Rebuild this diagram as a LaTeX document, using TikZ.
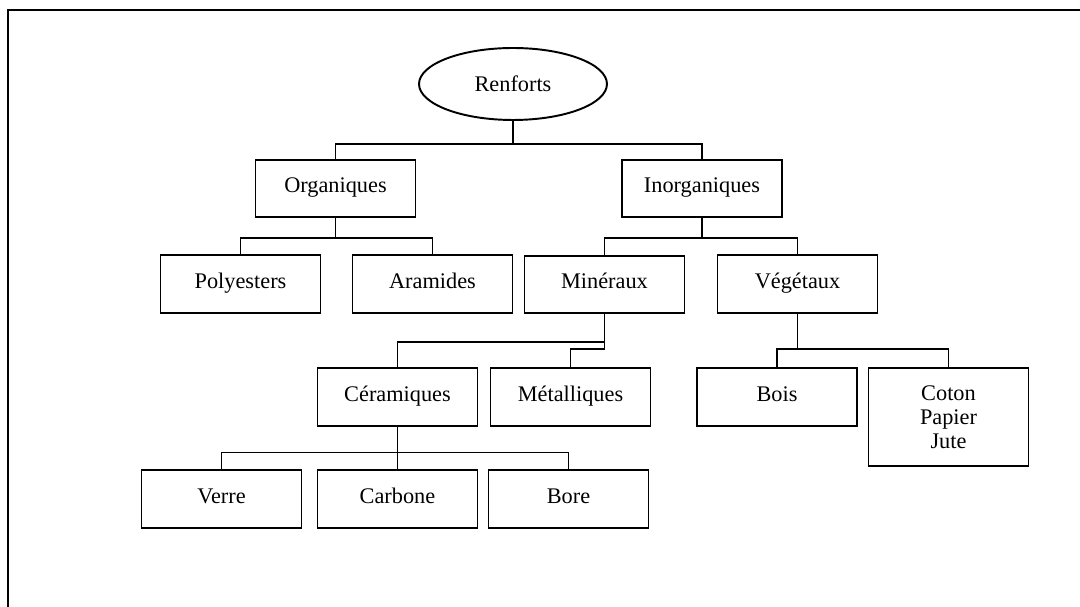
\documentclass[tikz,border=0pt]{standalone}
\usepackage{fontspec}
\setmainfont{Liberation Serif}
\usetikzlibrary{shapes.geometric}

\tikzset{
	boite/.style={draw, line width=1.1pt, minimum width=3.2cm, minimum height=1.15cm,
		align=center, font=\fontsize{12.7}{13.8}\selectfont},
	famille/.style={boite, text height=1.6ex, text depth=0.5ex},
	racine/.style={ellipse, draw, line width=1.1pt, minimum width=3.76cm, minimum height=1.44cm,
		font=\fontsize{12.7}{13.8}\selectfont},
	lien/.style={line width=1pt},
}

\begin{document}
\begin{tikzpicture}[x=0.02cm, y=-0.02cm]
	\useasboundingbox (0,0) rectangle (1080,607);
	\draw[line width=1.2pt] (8,607) -- (8,10) -- (1081,10);

	\node[racine] (renf) at (513,84) {Renforts};

	\node[famille] (org) at (335.5,188.5) {Organiques};
	\node[famille] (inorg) at (702,188.5) {Inorganiques};

	\node[famille] (poly) at (240.5,284) {Polyesters};
	\node[famille] (aram) at (432.5,284) {Aramides};
	\node[famille] (miner) at (604.5,284.5) {Minéraux};
	\node[famille] (veget) at (797.5,284) {Végétaux};

	\node[famille] (ceram) at (397.5,397) {Céramiques};
	\node[famille] (metal) at (570.5,397) {Métalliques};
	\node[famille] (bois) at (777,397) {Bois};
	\node[boite, minimum height=1.96cm] (coton) at (948.5,417) {Coton\\Papier\\Jute};

	\node[famille] (verre) at (221.5,499) {Verre};
	\node[famille] (carb) at (397.5,499) {Carbone};
	\node[famille] (bore) at (568.5,499) {Bore};

	\coordinate (b1) at (513,144);
	\coordinate (b2) at (335.5,238);
	\coordinate (b3) at (702,238);
	\coordinate (b4) at (604.5,342);
	\coordinate (b5) at (604.5,349);
	\coordinate (b6) at (797.5,349);
	\coordinate (b7) at (397.5,452.5);

	\draw[lien] (renf.south) -- (b1) -| (org.north);
	\draw[lien] (b1) -| (inorg.north);

	\draw[lien] (org.south) -- (b2) -| (poly.north);
	\draw[lien] (b2) -| (aram.north);
	\draw[lien] (inorg.south) -- (b3) -| (miner.north);
	\draw[lien] (b3) -| (veget.north);

	\draw[lien] (miner.south) -- (b5);
	\draw[lien] (b4) -| (ceram.north);
	\draw[lien] (b5) -| (metal.north);
	\draw[lien] (veget.south) -- (b6) -| (bois.north);
	\draw[lien] (b6) -| (coton.north);

	\draw[lien] (ceram.south) -- (carb.north);
	\draw[lien] (b7) -| (verre.north);
	\draw[lien] (b7) -| (bore.north);
\end{tikzpicture}
\end{document}
